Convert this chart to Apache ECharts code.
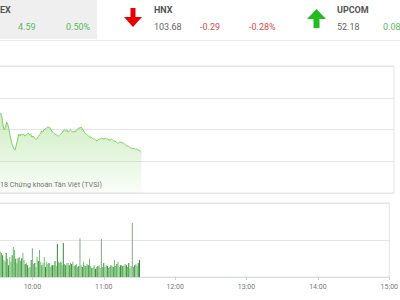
<!DOCTYPE html>
<html><head><meta charset="utf-8">
<script src="https://cdn.jsdelivr.net/npm/echarts@6/dist/echarts.min.js"></script>
<style>
html,body{margin:0;padding:0;width:400px;height:300px;overflow:hidden;background:#fff;}
#c{position:absolute;left:-39px;top:0;width:440px;height:300px;}
</style></head><body>
<div id="c"></div>
<script>
// ---- data ----
const startMinute = 570; // 09:30
const tickLabels = ['9:00','10:00','11:00','12:00','13:00','14:00','15:00'];
const indexValues = [
925.70,925.83,925.95,926.08,925.57,924.44,923.94,924.31,924.94,924.57,
923.94,923.05,922.42,921.92,921.54,921.42,922.05,922.68,923.43,923.18,
923.43,923.31,923.43,923.18,923.31,923.43,923.56,923.31,923.43,923.05,
923.18,922.93,922.80,922.80,923.05,923.31,923.43,923.81,923.68,923.94,
924.06,924.19,924.31,924.31,924.19,923.94,923.68,923.56,923.43,923.31,
923.31,923.18,923.31,923.43,923.56,923.81,923.94,923.81,923.94,923.68,
923.81,923.94,923.81,923.68,923.81,923.68,923.94,924.06,924.19,924.19,
924.31,924.06,923.81,923.56,923.43,923.31,923.18,923.05,923.05,922.93,
922.80,922.80,922.68,922.55,922.68,922.80,922.80,922.93,922.80,922.80,
922.93,922.80,922.80,922.68,922.68,922.80,922.68,922.55,922.55,922.42,
922.30,922.30,922.42,922.42,922.30,922.30,922.17,922.05,921.92,921.92,
921.79,921.67,921.67,921.54,921.67,921.54,921.54,921.42,921.42,921.29,
921.16];
const volumes = [
68,59,68,68,65,59,46,41,65,49,
32,54,41,59,81,73,49,38,51,54,
43,51,65,46,35,38,32,24,27,46,
78,35,38,27,54,43,73,41,32,38,
54,27,41,35,38,27,32,32,32,43,
30,89,41,38,41,32,92,35,32,38,
38,32,38,35,41,30,32,35,27,30,
105,32,27,41,32,30,35,32,49,30,
24,27,32,22,27,30,32,24,103,27,
38,27,32,30,24,27,32,30,27,46,
30,35,41,27,32,32,30,32,35,32,
27,38,24,30,146,27,32,35,30,38,
46];
const sides = [
'S','S','B','S','S','B','S','S','B','S',
'B','S','S','B','S','S','B','S','B','S',
'S','B','S','S','B','S','B','S','S','B',
'P','S','B','S','S','B','S','S','B','S',
'S','B','S','S','B','S','S','B','S','B',
'S','B','S','S','B','S','B','S','B','S',
'S','B','S','B','S','S','B','S','S','B',
'P','S','B','S','S','B','S','B','S','S',
'B','S','S','B','S','B','S','S','P','S',
'B','S','S','B','S','S','B','S','B','S',
'S','B','S','S','B','S','B','S','S','B',
'S','B','S','S','P','S','B','S','S','B',
'B'];
const boardNames = ['EX','HNX','UPCOM'];
const boardValues = ['103.68','52.18'];
const boardChanges = ['4.59','-0.29','0.08'];
const boardPercents = ['0.50%','-0.28%'];
const copyright = '18 Chứng khoán Tân Việt (TVSI)';

// ---- chart ----
const OX = 39; // page -> div offset
const minutes = indexValues.map((_, i) => startMinute + i);
const sideColor = {B:'#2f8a2f', S:'#6fc06f', P:'#86a786'};
const GREEN = '#5cb85c', RED = '#dd4b4b', GRAY = '#666', NAME = '#555';
const F = 'Roboto, Arial, sans-serif';

function txt(x, y, text, fill, font, align) {
  return {type:'text', x:x+OX, y:y, z:100,
    style:{text:text, fill:fill, font:font, align:align||'left', verticalAlign:'middle'}};
}

const chart = echarts.init(document.getElementById('c'), null, {renderer:'svg'});
chart.setOption({
  animation:false,
  backgroundColor:'#fff',
  grid:[
    {left:0, right:7, top:66, height:127, show:true, borderColor:'#e3e3e3', borderWidth:1},
    {left:0, right:7, top:203, height:74, show:true, borderColor:'#e3e3e3', borderWidth:1}
  ],
  xAxis:[
    {type:'value', gridIndex:0, min:540, max:900, interval:60,
     axisLine:{show:false}, axisTick:{show:false}, axisLabel:{show:false}, splitLine:{show:false}},
    {type:'value', gridIndex:1, min:540, max:900, interval:60,
     axisLine:{show:true, lineStyle:{color:'#dedede'}},
     axisTick:{show:true, length:3, lineStyle:{color:'#cfcfcf'}},
     axisLabel:{show:true, showMinLabel:false, color:'#777', fontSize:7, fontFamily:F, margin:6,
       formatter:(v)=>tickLabels[Math.round((v-540)/60)]},
     splitLine:{show:false}}
  ],
  yAxis:[
    {type:'value', gridIndex:0, min:916, max:932, interval:4,
     axisLine:{show:false}, axisTick:{show:false}, axisLabel:{show:false},
     splitLine:{show:true, lineStyle:{color:'#e6e6e6'}}},
    {type:'value', gridIndex:1, min:0, max:200, interval:100,
     axisLine:{show:false}, axisTick:{show:false}, axisLabel:{show:false},
     splitLine:{show:true, lineStyle:{color:'#e6e6e6'}}}
  ],
  series:[
    {type:'line', xAxisIndex:0, yAxisIndex:0, showSymbol:false, symbol:'none',
     data: minutes.map((m,i)=>[m, indexValues[i]]),
     lineStyle:{color:'#80d063', width:1},
     areaStyle:{color:{type:'linear', x:0, y:0, x2:0, y2:1, colorStops:[
       {offset:0, color:'rgba(140,214,112,0.62)'},
       {offset:1, color:'rgba(140,214,112,0.06)'}]}}},
    {type:'bar', xAxisIndex:1, yAxisIndex:1, barWidth:1,
     data: minutes.map((m,i)=>({value:[m, volumes[i]], itemStyle:{color:sideColor[sides[i]]}}))}
  ],
  graphic:[
    {type:'rect', x:0, y:0, z:90, shape:{width:97+OX, height:39}, style:{fill:'#efefef'}},
    {type:'line', z:90, shape:{x1:0, y1:40.5, x2:440, y2:40.5}, style:{stroke:'#ececec', lineWidth:1}},
    txt(0, 10, boardNames[0], NAME, 'bold 9px '+F),
    txt(18, 27, boardChanges[0], GREEN, '9px '+F),
    txt(66, 27, boardPercents[0], GREEN, '9px '+F),
    {type:'polygon', z:100, shape:{points:[[130.5+OX,8],[135.5+OX,8],[135.5+OX,17],[142+OX,17],[133+OX,27],[124+OX,17],[130.5+OX,17]]}, style:{fill:'#e60000'}},
    txt(154, 10, boardNames[1], NAME, 'bold 9px '+F),
    txt(154, 27, boardValues[0], GRAY, '9px '+F),
    txt(200, 27, boardChanges[1], RED, '9px '+F),
    txt(249, 27, boardPercents[1], RED, '9px '+F),
    {type:'polygon', z:100, shape:{points:[[316.5+OX,9],[326+OX,19],[319.5+OX,19],[319.5+OX,28],[313.5+OX,28],[313.5+OX,19],[307+OX,19]]}, style:{fill:'#22bb22'}},
    txt(337, 10, boardNames[2], NAME, 'bold 9px '+F),
    txt(337, 27, boardValues[1], GRAY, '9px '+F),
    txt(383, 27, boardChanges[2], GREEN, '9px '+F),
    txt(0, 184, copyright, '#777', '7.2px '+F)
  ]
});
</script>
</body></html>
